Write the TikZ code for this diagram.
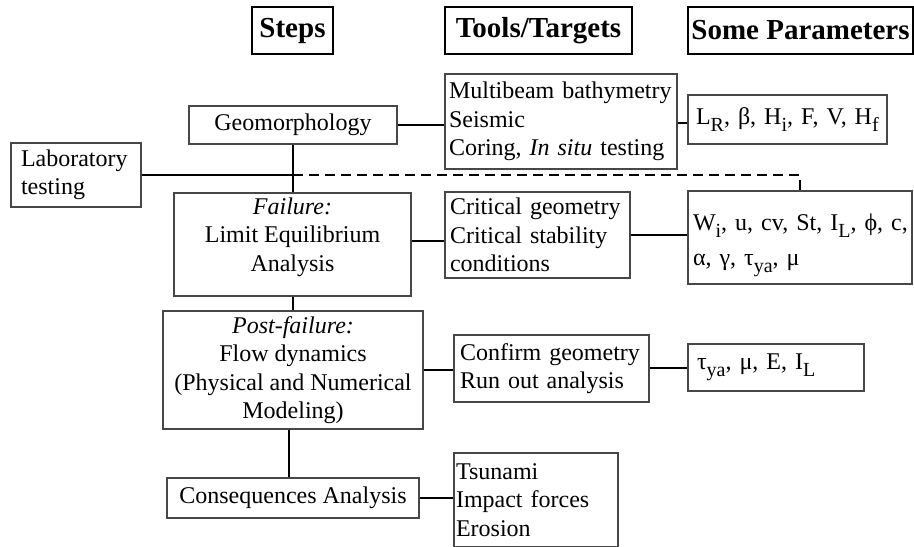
\documentclass[tikz,border=0pt]{standalone}
\usepackage{fontspec}
\setmainfont{Liberation Serif}
% lowered, slightly smaller index letters
\newcommand\dn[1]{\raisebox{-3.5pt}{\fontsize{10}{10}\selectfont #1}}

\begin{document}
\begin{tikzpicture}[x=0.5pt,y=-0.5pt,
  every node/.style={font=\fontsize{12}{14.2}\selectfont},
  head/.style={draw=black, line width=1pt, inner sep=0pt,
    font=\fontsize{14.5}{17}\selectfont\bfseries},
  stepbox/.style={draw=black!72, line width=0.65pt, align=center, inner sep=0pt},
  infobox/.style={draw=black!72, line width=0.65pt, align=left, inner ysep=0pt},
  link/.style={line width=1pt},
  dashlink/.style={line width=1pt, dash pattern=on 5pt off 3pt},
]
\fill[white] (0,0) rectangle (914,546);
\useasboundingbox (0,0) rectangle (914,546);

% column headings
\node[head, minimum width=40.5pt, minimum height=23.5pt] (hsteps) at (292.5,30.5) {Steps};
\node[head, minimum width=93.5pt, minimum height=23.5pt] (htools) at (538.5,30.5) {Tools/Targets};
\node[head, minimum width=112.5pt, minimum height=23.5pt] (hpar) at (800.5,30.5) {Some Parameters};

% steps
\node[stepbox, minimum width=104pt, minimum height=19pt] (geo) at (293,125) {Geomorphology};
\node[stepbox, minimum width=118.5pt, minimum height=51.5pt, text depth=10pt] (fail) at (292.5,244.5)
  {\textit{Failure:}\\Limit Equilibrium\\Analysis};
\node[stepbox, minimum width=130pt, minimum height=59pt] (post) at (293,370)
  {\textit{Post-failure:}\\Flow dynamics\\(Physical and Numerical\\Modeling)};
\node[stepbox, minimum width=126pt, minimum height=20pt] (cons) at (293,498) {Consequences Analysis};
\node[infobox, inner xsep=5pt, text width=55pt, minimum height=32pt] (lab) at (76,175)
  {Laboratory\\testing};

% tools / targets
\node[infobox, inner xsep=2pt, text width=112pt, minimum height=47.5pt] (tgeo) at (561,121.5)
  {\mbox{Multibeam bathymetry}\\Seismic\\\mbox{Coring, \textit{In situ} testing}};
\node[infobox, inner xsep=2.5pt, text width=87.5pt, minimum height=43pt] (tfail) at (537.5,235)
  {\mbox{Critical geometry}\\\mbox{Critical stability}\\conditions};
\node[infobox, inner xsep=3pt, text width=91.5pt, minimum height=33.5pt] (tpost) at (551.5,368.5)
  {\mbox{Confirm geometry}\\\mbox{Run out analysis}};
\node[infobox, inner xsep=1pt, text width=80pt, minimum height=47pt] (tcons) at (536,500)
  {Tsunami\\\mbox{Impact forces}\\Erosion};

% parameters
\node[infobox, inner xsep=4pt, text width=91.5pt, minimum height=24.5pt] (pgeo) at (787.5,119.5)
  {\mbox{L\dn{R}, β, H\dn{i}, F, V, H\dn{f}}};
\node[infobox, inner xsep=2.5pt, text width=107pt, minimum height=46.5pt, text height=16.5pt,
  font=\fontsize{12}{17.5}\selectfont] (pfail) at (800,237.5)
  {\mbox{W\dn{i}, u, cv, St, I\dn{L}, ϕ, c,}\\\mbox{α, γ, τ\dn{ya}, μ}};
\node[infobox, inner xsep=4.5pt, text width=79pt, minimum height=23.5pt] (ppost) at (776,367.5)
  {\mbox{τ\dn{ya}, μ, E, I\dn{L}}};

% main chain of steps
\draw[link] (geo.south) -- (geo.south |- fail.north);
\draw[link] (fail.south) -- (fail.south |- post.north);
\draw[link] ([xshift=-2pt]post.south) -- ([xshift=-2pt]post.south |- cons.north);

% laboratory testing feeds the chain, and the failure parameters
\coordinate (jn) at (geo.south |- lab.east);
\coordinate (jc) at (jn -| pfail.north);
\draw[link] (lab.east) -- (jn);
\draw[dashlink] (jn) -- (jc) -- (pfail.north);

% steps to tools
\draw[link] (geo.east) -- (geo.east -| tgeo.west);
\coordinate (fx) at ([yshift=-3pt]tfail.west);
\draw[link] (fail.east |- fx) -- (fx);
\draw[link] (post.east) -- (post.east -| tpost.west);
\draw[link] (cons.east) -- (cons.east -| tcons.west);

% tools to parameters
\coordinate (gx) at ([yshift=-1.75pt]pgeo.west);
\draw[link] (tgeo.east |- gx) -- (gx);
\draw[link] (tfail.east) -- (tfail.east -| pfail.west);
\draw[link] (ppost.west -| tpost.east) -- (ppost.west);
\end{tikzpicture}
\end{document}
